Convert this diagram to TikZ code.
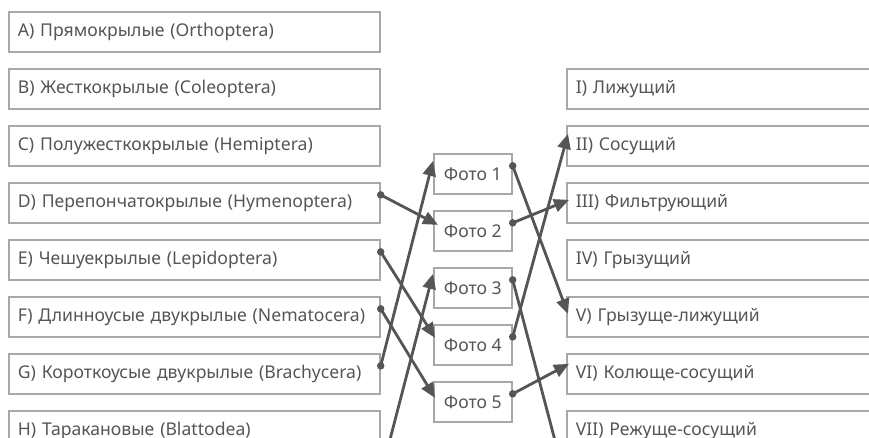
\documentclass[tikz,border=0pt]{standalone}
\usepackage{fontspec}
\setmainfont{Noto Sans}
\usetikzlibrary{arrows.meta}

\definecolor{boxgray}{HTML}{A8A8A8}
\definecolor{linegray}{HTML}{555555}
\definecolor{textgray}{HTML}{555555}

\tikzstyle{boxtext} = [font=\fontsize{17.6}{20}\selectfont, text=textgray]
\tikzstyle{order} = [boxtext, draw=boxgray, line width=1.7pt, anchor=north west, minimum width=371pt, minimum height=40pt, text width=353pt, inner xsep=9pt, inner ysep=0pt, align=left]
\tikzstyle{mouth} = [boxtext, draw=boxgray, line width=1.7pt, anchor=north west, minimum width=330pt, minimum height=40pt, text width=312pt, inner xsep=9pt, inner ysep=0pt, align=left]
\tikzstyle{photo} = [boxtext, draw=boxgray, line width=1.7pt, anchor=north west, minimum width=78pt, minimum height=40pt, inner sep=0pt]
\tikzstyle{link} = [draw=linegray, line width=2.8pt, -{Triangle[length=15pt,width=13pt]}]
\tikzstyle{dot} = [circle, fill=linegray, inner sep=0pt, minimum size=7.5pt]

\begin{document}
\begin{tikzpicture}[x=1pt, y=-1pt]
      \clip (0,0) rectangle (869,437);
      %% insect orders
      \foreach \name/\text/\y in {
        A/{A) Прямокрылые (Orthoptera)}/11,
        B/{B) Жесткокрылые (Coleoptera)}/68,
        C/{C) Полужесткокрылые (Hemiptera)}/125,
        D/{D) Перепончатокрылые (Hymenoptera)}/182,
        E/{E) Чешуекрылые (Lepidoptera)}/239,
        F/{F) Длинноусые двукрылые (Nematocera)}/296,
        G/{G) Короткоусые двукрылые (Brachycera)}/353,
        H/{H) Таракановые (Blattodea)}/410}
      {
        \node[order] (\name) at (8,\y) {\text};
      }
      %% mouthparts
      \foreach \name/\text/\y in {
        I/{I) Лижущий}/68,
        II/{II) Сосущий}/125,
        III/{III) Фильтрующий}/182,
        IV/{IV) Грызущий}/239,
        V/{V) Грызуще-лижущий}/296,
        VI/{VI) Колюще-сосущий}/353,
        VII/{VII) Режуще-сосущий}/410}
      {
        \node[mouth] (\name) at (566,\y) {\text};
      }
      %% photos
      \foreach \n/\y in {1/153, 2/210, 3/267, 4/324, 5/381}
      {
        \node[photo] (p\n) at (433,\y) {Фото \n};
      }
      % ends below the visible part
      \coordinate (below left) at (380,478);
      \coordinate (below right) at (568,490);
      % links
      \foreach \from/\to/\dx/\dy in {
        D/p2/5/6, E/p4/2/7, F/p5/2/4, G/p1/0/13,
        p1/V/2/3, p2/III/3/3, p4/II/2/12, p5/VI/3/10}
      {
        \node[dot] (d\from) at ([yshift=8pt]\from.east) {};
        \draw[link] (d\from.center) -- ([xshift=\dx pt,yshift=\dy pt]\to.west);
      }
      \node[dot] (dp3) at ([yshift=8pt]p3.east) {};
      \draw[link] (below left) -- ([yshift=14pt]p3.west);
      \draw[link] (dp3.center) -- (below right);
\end{tikzpicture}
\end{document}
